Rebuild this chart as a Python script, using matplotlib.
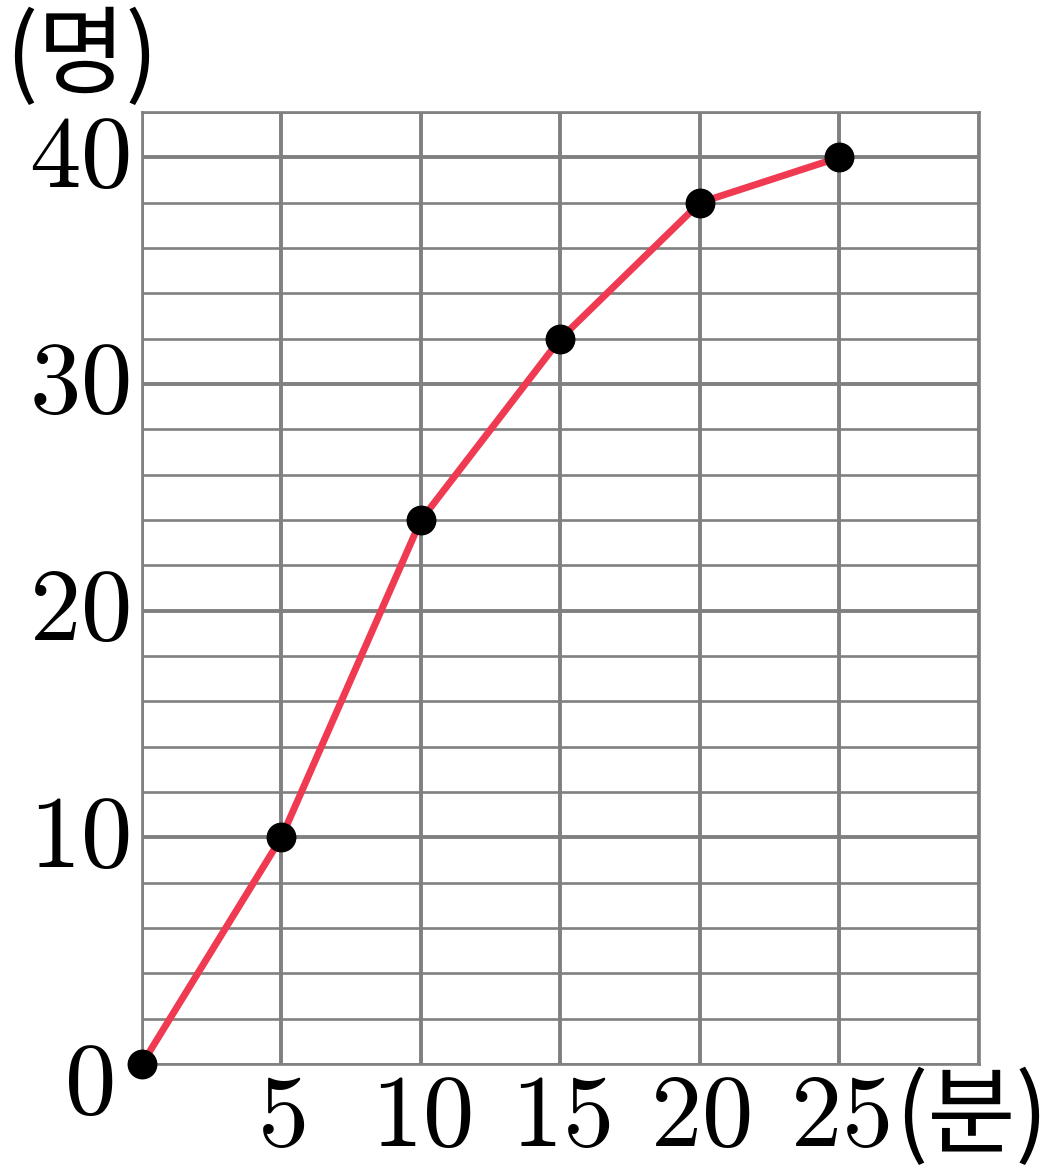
import matplotlib
matplotlib.use("Agg")
import matplotlib.pyplot as plt

# cumulative counts by minutes
minutes = [0, 5, 10, 15, 20, 25]
people = [0, 10, 24, 32, 38, 40]
x_labels = [5, 10, 15, 20, 25]
y_labels = [10, 20, 30, 40]

plt.rcParams["font.family"] = ["Noto Sans CJK KR", "DejaVu Sans"]
plt.rcParams["mathtext.fontset"] = "cm"

fig = plt.figure(figsize=(10.62, 11.74), dpi=100)
ax = fig.add_axes([0.1337, 0.0937, 0.7881, 0.8109])
ax.set_xlim(0, 30)
ax.set_ylim(0, 42)

grid_c = "#808080"
ax.set_xticks(range(0, 31, 5))
ax.set_yticks(range(0, 43, 2), minor=True)
ax.set_yticks(y_labels)
ax.grid(True, which="major", color=grid_c, lw=2.8)
ax.grid(True, which="minor", axis="y", color=grid_c, lw=1.9)
ax.tick_params(which="both", length=0, labelbottom=False, labelleft=False)
for s in ax.spines.values():
    s.set_color(grid_c)
    s.set_linewidth(1.9)

ax.plot(minutes, people, color="#EF3A52", lw=5.0, zorder=3, clip_on=False)
ax.plot(minutes, people, "o", color="black", ms=20.5, zorder=4, clip_on=False)

fs = 74
for v in y_labels:
    ax.text(-0.45, v, f"${v}$", ha="right", va="center", fontsize=fs)
for v in x_labels:
    ax.text(v, -2.3, f"${v}$", ha="center", va="center", fontsize=fs)
ax.text(-1.9, -0.9, "$0$", ha="center", va="center", fontsize=fs)
ax.text(27.0, -2.4, "(분)", ha="left", va="center", fontsize=69)
ax.text(-2.15, 44.35, "(명)", ha="center", va="center", fontsize=69, clip_on=False)

fig.savefig("out.png", dpi=100)
